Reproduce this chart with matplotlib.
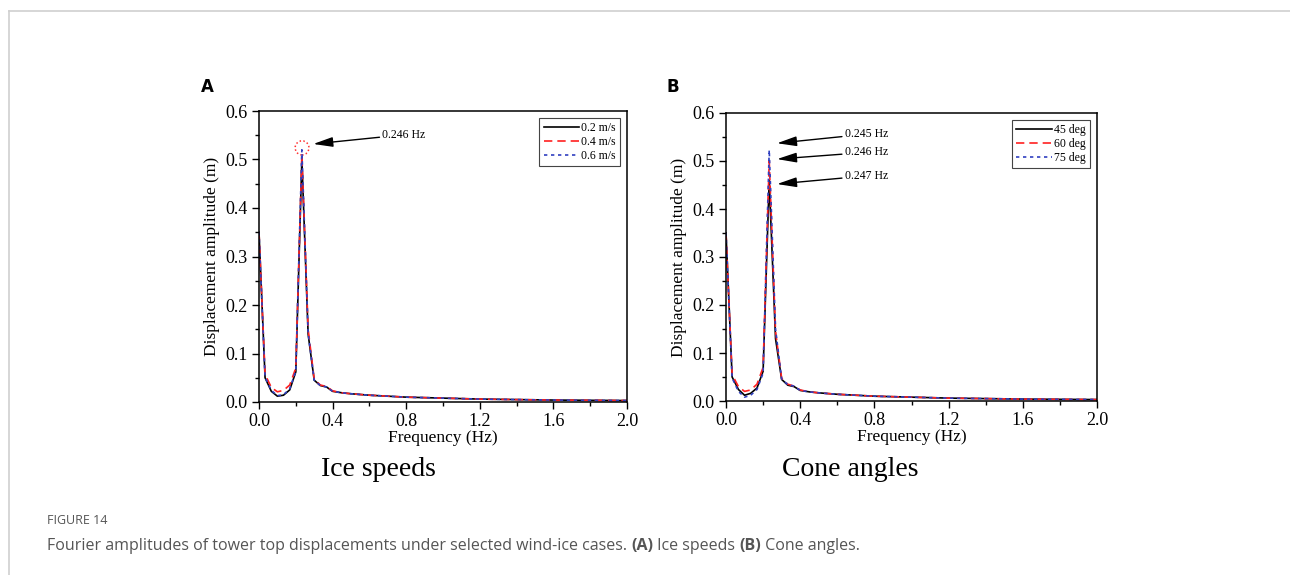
import matplotlib
matplotlib.use("Agg")
import matplotlib.pyplot as plt
from matplotlib.lines import Line2D
from matplotlib.patches import Ellipse
from matplotlib.ticker import MultipleLocator, FormatStrFormatter

# ---------------- data ----------------
freq = [0.0, 0.033, 0.067, 0.1, 0.133, 0.167, 0.2, 0.233, 0.267, 0.3, 0.333,
        0.367, 0.4, 0.45, 0.5, 0.6, 0.7, 0.8, 1.0, 1.2, 1.4, 1.6, 1.8, 2.0]

tail = [0.019, 0.017, 0.014, 0.012, 0.010, 0.008, 0.006, 0.005, 0.004, 0.0035, 0.003]

a_02 = [0.35, 0.050, 0.022, 0.012, 0.014, 0.025, 0.062, 0.500, 0.140, 0.045,
        0.034, 0.031, 0.022] + tail
a_04 = [0.35, 0.057, 0.030, 0.021, 0.024, 0.035, 0.070, 0.510, 0.150, 0.047,
        0.035, 0.032, 0.023] + tail
a_06 = [0.35, 0.051, 0.024, 0.013, 0.015, 0.027, 0.064, 0.520, 0.142, 0.045,
        0.034, 0.031, 0.022] + tail

b_45 = [0.35, 0.050, 0.024, 0.012, 0.016, 0.027, 0.062, 0.460, 0.130, 0.045,
        0.033, 0.030, 0.022] + tail
b_60 = [0.35, 0.055, 0.030, 0.020, 0.023, 0.035, 0.070, 0.500, 0.145, 0.047,
        0.035, 0.031, 0.023] + tail
b_75 = [0.35, 0.048, 0.020, 0.008, 0.012, 0.024, 0.058, 0.523, 0.150, 0.046,
        0.034, 0.031, 0.022] + tail

labels_a = ["0.2 m/s", "0.4 m/s", "0.6 m/s"]
labels_b = ["45 deg", "60 deg", "75 deg"]

# ---------------- figure ----------------
W, H = 1290, 575
fig = plt.figure(figsize=(W / 100, H / 100), dpi=100)
serif = ["Liberation Serif", "DejaVu Serif"]

# outer frame lines
fig.add_artist(Line2D([9 / W, 1.0], [1 - 10.5 / H, 1 - 10.5 / H], color="#cfcfcf", lw=1.2,
                      transform=fig.transFigure))
fig.add_artist(Line2D([9 / W, 9 / W], [1 - 10.5 / H, 0.0], color="#cfcfcf", lw=1.2,
                      transform=fig.transFigure))

styles = [dict(color="black", ls="-", lw=1.2),
          dict(color="#ff2020", ls=(0, (5, 3)), lw=1.2),
          dict(color="#3040c0", ls=(0, (2, 2.2)), lw=1.2)]


def make_axes(rect, series, labels):
    ax = fig.add_axes(rect)
    for s, lab, st in zip(series, labels, styles):
        ax.plot(freq, s, label=lab, **st)
    ax.set_xlim(0, 2.0)
    ax.set_ylim(0, 0.6)
    ax.xaxis.set_major_locator(MultipleLocator(0.4))
    ax.xaxis.set_minor_locator(MultipleLocator(0.2))
    ax.yaxis.set_major_locator(MultipleLocator(0.1))
    ax.yaxis.set_minor_locator(MultipleLocator(0.05))
    ax.tick_params(which="both", direction="out", top=False, right=False, width=1)
    ax.tick_params(which="major", length=5, labelsize=13, pad=3)
    ax.tick_params(which="minor", length=3)
    for lab in ax.get_xticklabels() + ax.get_yticklabels():
        lab.set_family(serif)
    ax.xaxis.set_major_formatter(FormatStrFormatter("%.1f"))
    ax.yaxis.set_major_formatter(FormatStrFormatter("%.1f"))
    for sp in ax.spines.values():
        sp.set_linewidth(1.1)
    ax.set_xlabel("Frequency (Hz)", family=serif, fontsize=12.5, labelpad=0)
    ax.set_ylabel("Displacement amplitude (m)", family=serif, fontsize=12.5, labelpad=4)
    leg = ax.legend(loc="upper right", prop={"family": serif, "size": 8.5},
                    fancybox=False, edgecolor="#444444", framealpha=1,
                    handlelength=3.0, handletextpad=0.2, borderpad=0.35,
                    labelspacing=0.15, borderaxespad=0.6)
    leg.get_frame().set_linewidth(0.8)
    return ax


axA = make_axes([259 / W, 1 - 402 / H, (627 - 259) / W, (402 - 111) / H], [a_02, a_04, a_06], labels_a)
axB = make_axes([726 / W, 1 - 401 / H, (1097 - 726) / W, (401 - 113) / H], [b_45, b_60, b_75], labels_b)

arrow = dict(arrowstyle="-|>,head_length=1.4,head_width=0.35",
             color="black", lw=1, shrinkA=0, shrinkB=0)

# annotations panel A
axA.add_patch(Ellipse((0.234, 0.524), 0.075, 0.029, fill=False, ec="#ff3030",
                      ls=(0, (1, 1.5)), lw=1.1))
axA.annotate("0.246 Hz", xy=(0.295, 0.532), xytext=(0.67, 0.551),
             fontsize=8.5, family=serif, va="center", ha="left", arrowprops=arrow)

# annotations panel B
for txt, tip, ty in [("0.245 Hz", 0.537, 0.556), ("0.246 Hz", 0.504, 0.518),
                     ("0.247 Hz", 0.452, 0.469)]:
    axB.annotate(txt, xy=(0.275, tip), xytext=(0.64, ty),
                 fontsize=8.5, family=serif, va="center", ha="left", arrowprops=arrow)

# panel letters and titles
fig.text(201 / W, 1 - 87 / H, "A", fontsize=12, fontweight="bold", family="DejaVu Sans",
         va="center", ha="left")
fig.text(667 / W, 1 - 87 / H, "B", fontsize=12, fontweight="bold", family="DejaVu Sans",
         va="center", ha="left")
fig.text(378 / W, 1 - 470 / H, "Ice speeds", fontsize=20, family=serif, ha="center", va="center")
fig.text(850 / W, 1 - 470 / H, "Cone angles", fontsize=20, family=serif, ha="center", va="center")

# caption
cap_font = ["Open Sans", "DejaVu Sans"]
fig.text(47 / W, 1 - 520 / H, "FIGURE 14", fontsize=9, family=cap_font, color="#555555",
         va="center", ha="left")

pieces = [("Fourier amplitudes of tower top displacements under selected wind-ice cases. ", "normal"),
          ("(A)", "bold"), (" Ice speeds ", "normal"), ("(B)", "bold"), (" Cone angles.", "normal")]
renderer = fig.canvas.get_renderer()
x = 47
for txt, wt in pieces:
    t = fig.text(x / W, 1 - 546 / H, txt, fontsize=11.5, family=cap_font, color="#555555",
                 fontweight=wt, va="center", ha="left")
    bb = t.get_window_extent(renderer=renderer)
    x += bb.width

fig.savefig("out.png", dpi=100)
